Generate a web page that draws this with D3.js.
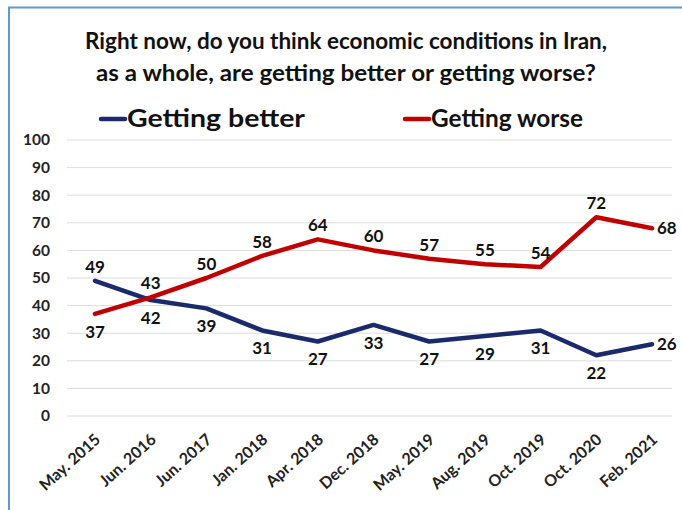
<!DOCTYPE html>
<html><head><meta charset="utf-8">
<script src="https://cdn.jsdelivr.net/npm/d3@7"></script>
<style>body{margin:0;background:#fff}svg{display:block}</style>
</head><body>
<script>
const categories = ["May. 2015","Jun. 2016","Jun. 2017","Jan. 2018","Apr. 2018","Dec. 2018","May. 2019","Aug. 2019","Oct. 2019","Oct. 2020","Feb. 2021"];
const better = [49,42,39,31,27,33,27,29,31,22,26];
const worse  = [37,43,50,58,64,60,57,55,54,72,68];
const betterPos = ["above","below","below","below","below","below","below","below","below","below","right"];
const worsePos  = ["below","above","above","above","above","above","above","above","above","above","right"];
const yTicks = [0,10,20,30,40,50,60,70,80,90,100];
const titleLines = ["Right now, do you think economic conditions in Iran,","as a whole, are getting better or getting worse?"];

const W=682,H=510;
const svg=d3.select("body").append("svg").attr("width",W).attr("height",H);
const font="Lato, 'Open Sans', sans-serif";

// frame
svg.append("path").attr("d",`M9,${H+2} L9,7.5 L${W+2},7.5`).attr("fill","none").attr("stroke","#5B9BD5").attr("stroke-width",2);

const x=d3.scalePoint().domain(categories).range([95,652]);
const y=d3.scaleLinear().domain([0,100]).range([416,140]);

// title
svg.append("g").selectAll("text").data(titleLines).join("text")
  .attr("x",346).attr("y",(d,i)=>49+i*32).attr("text-anchor","middle")
  .attr("font-family",font).attr("font-weight",700).attr("font-size",22.5).attr("fill","#111")
  .attr("textLength",(d,i)=>i===0?522:500).attr("lengthAdjust","spacingAndGlyphs")
  .text(d=>d);

// legend
const legend=[{name:"Getting better",color:"#1B2A6B",x:101},{name:"Getting worse",color:"#C00000",x:405}];
const lg=svg.append("g").selectAll("g").data(legend).join("g");
lg.append("line").attr("x1",d=>d.x).attr("x2",d=>d.x+24).attr("y1",119).attr("y2",119)
  .attr("stroke",d=>d.color).attr("stroke-width",4.5).attr("stroke-linecap","round");
lg.append("text").attr("x",d=>d.x+26).attr("y",127).attr("font-family",font).attr("font-weight",700)
  .attr("font-size",24).attr("fill","#111").text(d=>d.name)
  .attr("textLength",(d,i)=>i===0?178:152).attr("lengthAdjust","spacingAndGlyphs");

// grid
svg.append("g").selectAll("line").data(yTicks).join("line")
  .attr("x1",67).attr("x2",672).attr("y1",d=>y(d)).attr("y2",d=>y(d))
  .attr("stroke","#dcdcdc").attr("stroke-width",1);

// y axis
const ya=svg.append("g").attr("transform","translate(67,0)")
  .call(d3.axisLeft(y).tickValues(yTicks).tickSize(0).tickPadding(17));
ya.select(".domain").remove();
ya.selectAll("text").attr("font-family",font).attr("font-weight",700).attr("font-size",15.5).attr("fill","#222");

// x axis
const xa=svg.append("g").attr("transform","translate(0,416)")
  .call(d3.axisBottom(x).tickSize(0).tickPadding(0));
xa.select(".domain").remove();
xa.selectAll("text").attr("font-family",font).attr("font-weight",700).attr("font-size",16).attr("fill","#222")
  .attr("text-anchor","end").attr("dy",0).attr("transform","translate(6,25) rotate(-42)");

// lines
const series=[{vals:better,pos:betterPos,color:"#1B2A6B"},{vals:worse,pos:worsePos,color:"#C00000"}];
const line=d3.line().x((d,i)=>x(categories[i])).y(d=>y(d));
svg.append("g").selectAll("path").data(series).join("path")
  .attr("d",d=>line(d.vals)).attr("fill","none").attr("stroke",d=>d.color)
  .attr("stroke-width",4.5).attr("stroke-linejoin","round").attr("stroke-linecap","round");

// labels
series.forEach(s=>{
  svg.append("g").selectAll("text").data(s.vals).join("text")
    .attr("x",(d,i)=>x(categories[i])+(s.pos[i]==="right"?5:0))
    .attr("y",(d,i)=>y(d)+(s.pos[i]==="above"?-8:s.pos[i]==="below"?24:6))
    .attr("text-anchor",(d,i)=>s.pos[i]==="right"?"start":"middle")
    .attr("font-family",font).attr("font-weight",700).attr("font-size",17).attr("fill","#111")
    .text(d=>d);
});
</script>
</body></html>
